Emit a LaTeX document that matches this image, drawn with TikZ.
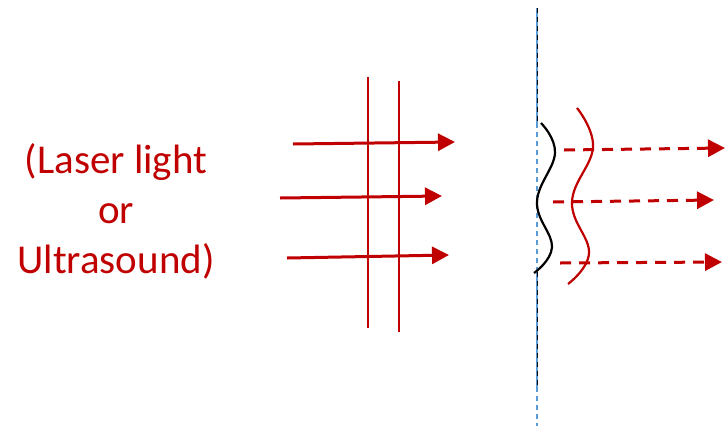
\documentclass[tikz,border=0pt]{standalone}
\usepackage{fontspec}
\setmainfont{Carlito}
\usetikzlibrary{arrows.meta}
\definecolor{dred}{RGB}{192,0,0}
\definecolor{lblue}{RGB}{91,155,213}
\begin{document}
\begin{tikzpicture}[x=1pt,y=-1pt,
  beam/.style={draw=dred,line width=3pt,-{Triangle[length=17pt,width=17pt]}},
  dbeam/.style={beam,dash pattern=on 11pt off 8pt},
  grate/.style={draw=dred,line width=1.5pt},
  lbl/.style={text=dred,font=\fontsize{41}{50}\selectfont,align=center,inner sep=0pt}]
\useasboundingbox (0,0) rectangle (725,426);
% text
\node[lbl] (txt) at (116,211) {(Laser light\\or\\Ultrasound)};
% grating lines
\draw[grate] (368,77) coordinate (g1a) -- (368,328) coordinate (g1b);
\draw[grate] (399,81) coordinate (g2a) -- (399,332) coordinate (g2b);
% incoming beams
\coordinate (a1s) at (293,144); \coordinate (a1e) at (455,142);
\coordinate (a2s) at (280,198); \coordinate (a2e) at (442,196);
\coordinate (a3s) at (287,258); \coordinate (a3e) at (449,255);
\draw[beam] (a1s) -- (a1e);
\draw[beam] (a2s) -- (a2e);
\draw[beam] (a3s) -- (a3e);
% vertical plane
\coordinate (p0) at (537,8); \coordinate (p1) at (537,123);
\coordinate (p2) at (537,272); \coordinate (p3) at (537,387);
\coordinate (p4) at (537,426);
\draw[lblue,line width=1.3pt] (p0) -- (p1);
\draw[black,line width=0.7pt,dash pattern=on 5pt off 4pt] (p0) -- (p1);
\draw[lblue,line width=1.3pt,dash pattern=on 5pt off 4pt] (p1) -- (p2);
\draw[lblue,line width=1.3pt] (p2) -- (p3);
\draw[black,line width=0.7pt,dash pattern=on 5pt off 4pt] (p2) -- (p3);
\draw[lblue,line width=1.3pt,dash pattern=on 5pt off 4pt] (p3) -- (p4);
% waves
\draw[black,line width=2.2pt] plot[smooth,tension=0.7] coordinates {(541,123) (555,153) (537,202) (552,247) (534,273)};
\draw[dred,line width=2.2pt] plot[smooth,tension=0.7] coordinates {(577,108) (593,147) (572,202) (589,253) (568,284)};
% outgoing beams
\coordinate (b1s) at (564,150); \coordinate (b1e) at (725,148);
\coordinate (b2s) at (553,202); \coordinate (b2e) at (714,200);
\coordinate (b3s) at (560,263); \coordinate (b3e) at (722,262);
\draw[dbeam] (b1s) -- (b1e);
\draw[dbeam] (b2s) -- (b2e);
\draw[dbeam] (b3s) -- (b3e);
\end{tikzpicture}
\end{document}
